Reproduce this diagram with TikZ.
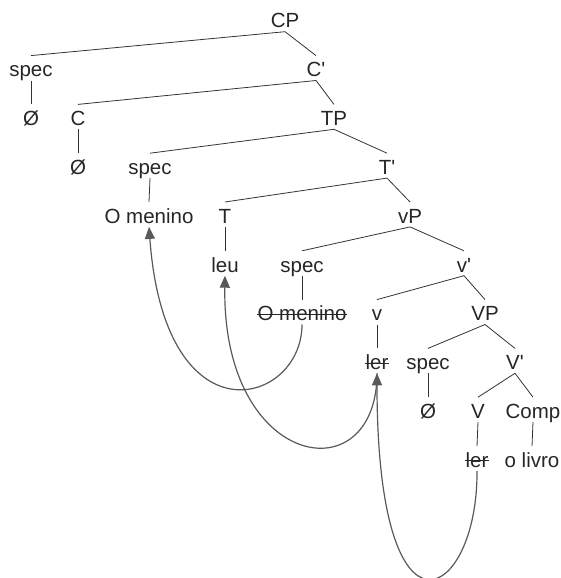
\documentclass[tikz,border=0pt]{standalone}
\usepackage{fontspec}
\setmainfont{Liberation Sans}[Ligatures=TeXOff]
\usetikzlibrary{arrows.meta}
\tikzset{
         lbl/.style={anchor=base,text=black!85,font=\fontsize{20.5pt}{24pt}\selectfont,
                     text height=18pt,text depth=0.5pt,inner xsep=1pt,inner ysep=3pt},
         struck/.style={path picture={\draw[black!85,line width=1.1pt]
                     ([yshift=10pt]path picture bounding box.south west) --
                     ([yshift=10pt]path picture bounding box.south east);}},
         branch/.style={draw=black!80,line width=0.8pt},
         move/.style={draw=black!65,line width=1.2pt,-{Triangle[width=10pt,length=12pt]}}
        }
\begin{document}
\begin{tikzpicture}[x=1pt,y=-1pt]
\useasboundingbox (0,0) rectangle (561,578);
% labels, one row after the other
\node[lbl] (cp) at (285,28) {CP};
\node[lbl] (spec1) at (31,76.8) {spec};
\node[lbl] (cbar) at (316,76.8) {C'};
\node[lbl] (null1) at (31,125.6) {Ø};
\node[lbl] (c) at (78,125.6) {C};
\node[lbl] (tp) at (334,125.6) {TP};
\node[lbl] (null2) at (78,174.4) {Ø};
\node[lbl] (spec2) at (150,174.4) {spec};
\node[lbl] (tbar) at (387,174.4) {T'};
\node[lbl] (subj) at (149,223.2) {O menino};
\node[lbl] (t) at (225,223.2) {T};
\node[lbl] (vp) at (410,223.2) {vP};
\node[lbl] (leu) at (225,272) {leu};
\node[lbl] (spec3) at (302,272) {spec};
\node[lbl] (vbar) at (464,272) {v'};
\node[lbl,struck] (subjcopy) at (302,320.8) {O menino};
\node[lbl] (smallv) at (377,320.8) {v};
\node[lbl] (bigvp) at (485,320.8) {VP};
\node[lbl,struck] (ler) at (377,369.6) {ler};
\node[lbl] (spec4) at (428,369.6) {spec};
\node[lbl] (bigvbar) at (515,369.6) {V'};
\node[lbl] (null3) at (428,418.4) {Ø};
\node[lbl] (bigv) at (478,418.4) {V};
\node[lbl] (comp) at (533,418.4) {Comp};
\node[lbl,struck] (lercopy) at (477,467.2) {ler};
\node[lbl] (livro) at (532,467.2) {o livro};
% branches
\draw[branch] (cp.south) -- (spec1.north);
\draw[branch] (cp.south) -- (cbar.north);
\draw[branch] (spec1.south) -- (null1.north);
\draw[branch] (cbar.south) -- (c.north);
\draw[branch] (cbar.south) -- (tp.north);
\draw[branch] (c.south) -- (null2.north);
\draw[branch] (tp.south) -- (spec2.north);
\draw[branch] (tp.south) -- (tbar.north);
\draw[branch] (spec2.south) -- (subj.north);
\draw[branch] (tbar.south) -- (t.north);
\draw[branch] (tbar.south) -- (vp.north);
\draw[branch] (t.south) -- (leu.north);
\draw[branch] (vp.south) -- (spec3.north);
\draw[branch] (vp.south) -- (vbar.north);
\draw[branch] (spec3.south) -- (subjcopy.north);
\draw[branch] (vbar.south) -- (smallv.north);
\draw[branch] (vbar.south) -- (bigvp.north);
\draw[branch] (smallv.south) -- (ler.north);
\draw[branch] (bigvp.south) -- (spec4.north);
\draw[branch] (bigvp.south) -- (bigvbar.north);
\draw[branch] (spec4.south) -- (null3.north);
\draw[branch] (bigvbar.south) -- (bigv.north);
\draw[branch] (bigvbar.south) -- (comp.north);
\draw[branch] (bigv.south) -- (lercopy.north);
\draw[branch] (comp.south) -- (livro.north);
% movement arrows
\draw[move] (subjcopy.south) .. controls (302,405) and (165,445) .. (subj.south);
\draw[move] (ler.south) .. controls (377,495) and (222,470) .. (leu.south);
\draw[move] (lercopy.south) .. controls (478,600) and (377,660) .. (ler.south);
\end{tikzpicture}
\end{document}
